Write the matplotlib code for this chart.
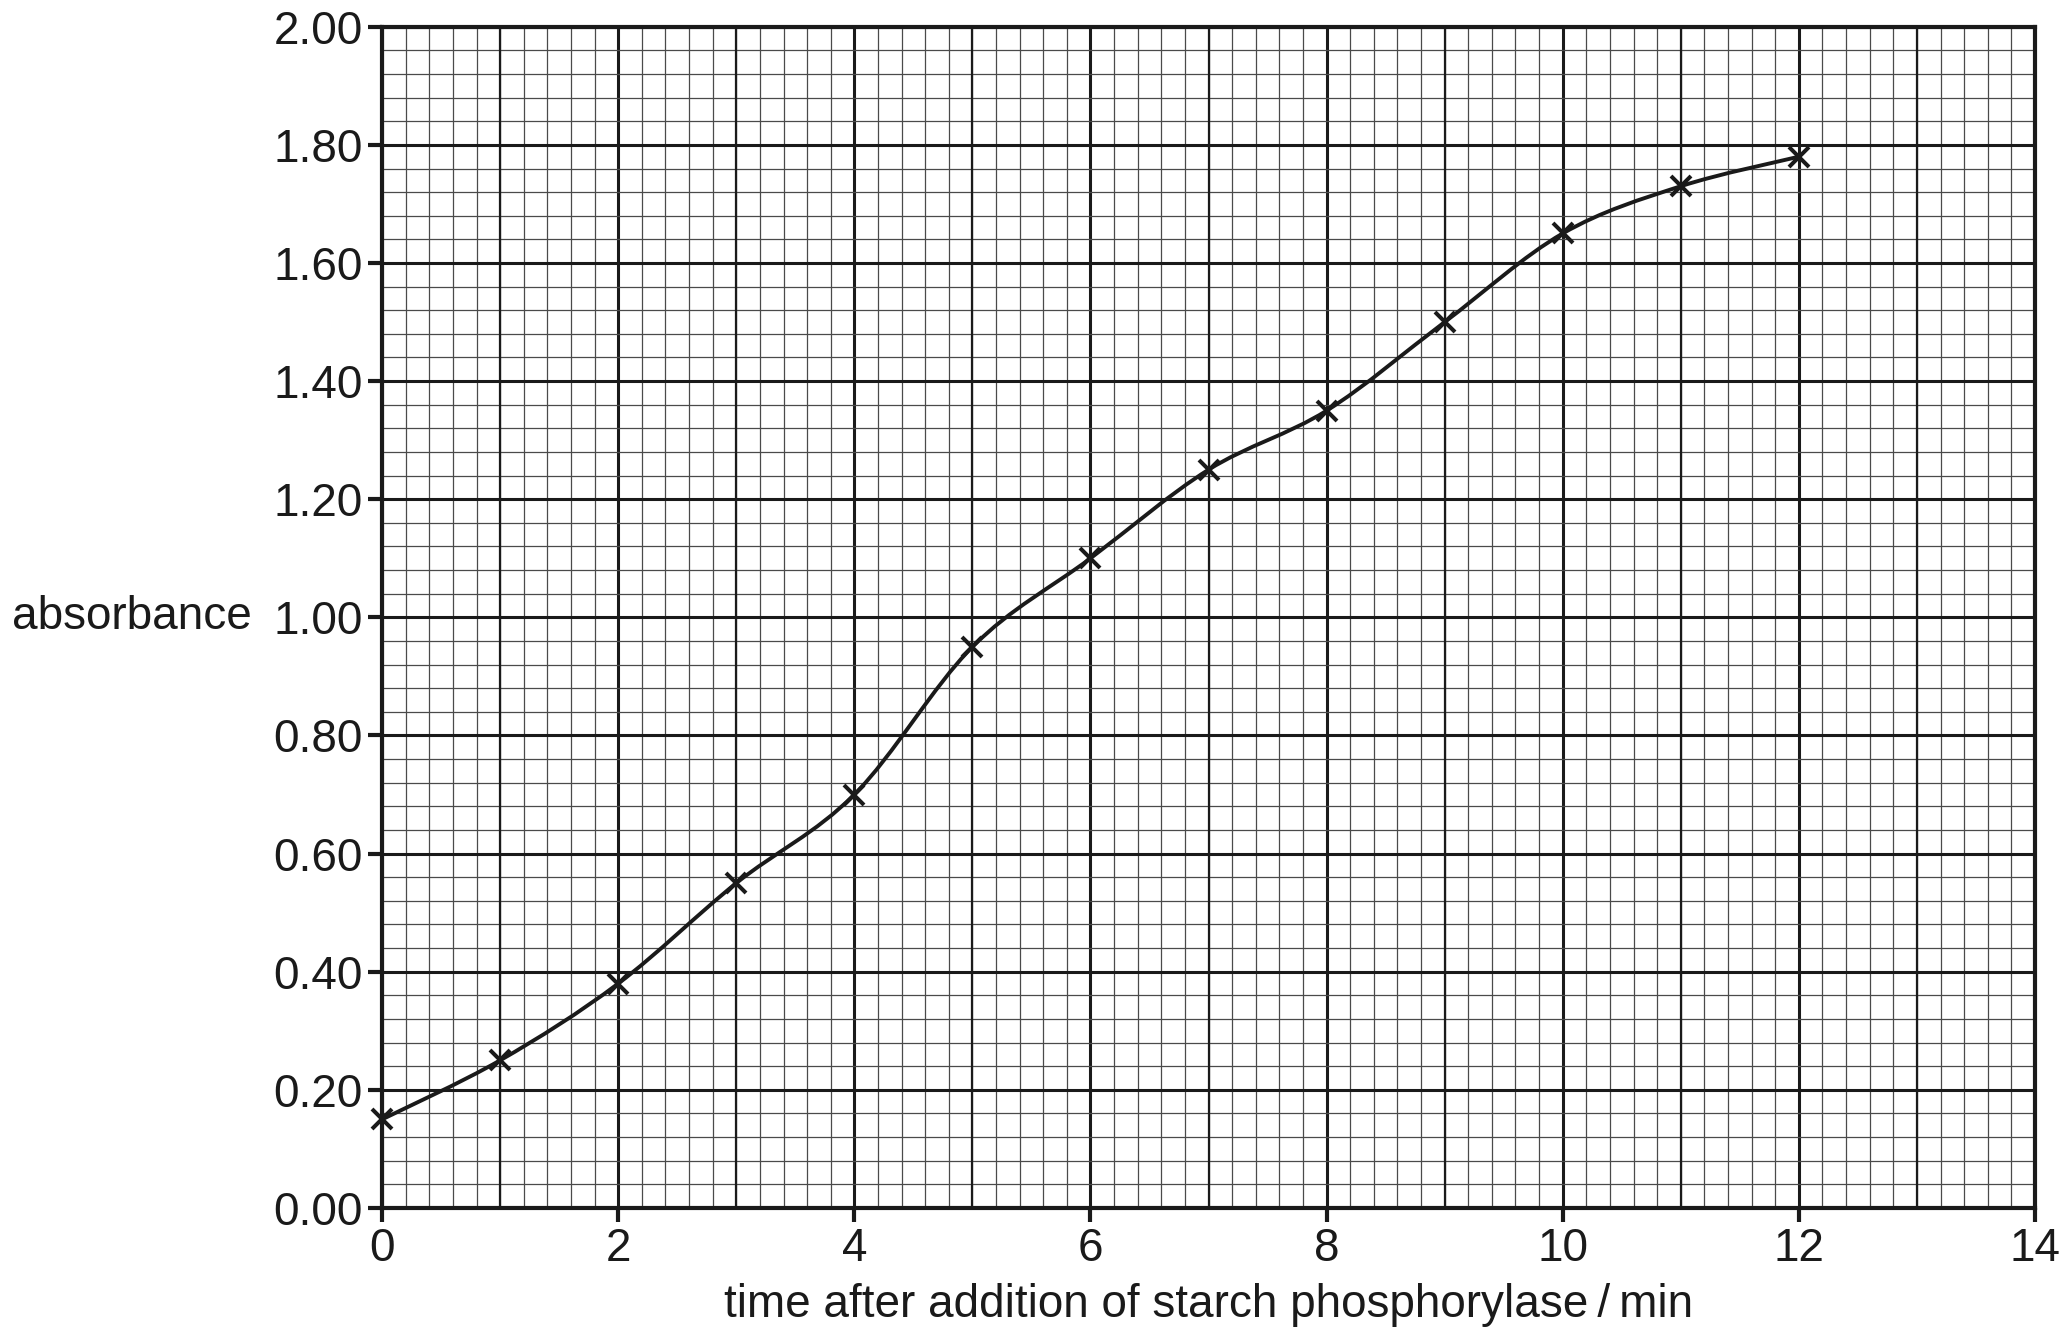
import numpy as np
import matplotlib
matplotlib.use('Agg')
import matplotlib.pyplot as plt
from matplotlib.path import Path
from matplotlib.patches import PathPatch
from matplotlib.ticker import MultipleLocator, FormatStrFormatter
from matplotlib.transforms import blended_transform_factory

plt.rcParams['font.family'] = ['Liberation Sans', 'DejaVu Sans']

# readings
time_min = [0, 1, 2, 3, 4, 5, 6, 7, 8, 9, 10, 11, 12]
absorbance = [0.15, 0.25, 0.38, 0.55, 0.70, 0.95, 1.10, 1.25, 1.35, 1.50, 1.65, 1.73, 1.78]

x_ticks = [0, 2, 4, 6, 8, 10, 12, 14]
y_ticks = [0.0, 0.2, 0.4, 0.6, 0.8, 1.0, 1.2, 1.4, 1.6, 1.8, 2.0]

ink = '#1a1a1a'

fig = plt.figure(figsize=(20.71, 13.38), dpi=100)
ax = fig.add_axes([0.1845, 0.0972, 0.7981, 0.8828])
ax.set_xlim(0, 14)
ax.set_ylim(0, 2.0)

# graph paper: fine lines, a middle line each minute, heavy lines at the ticks
ax.xaxis.set_minor_locator(MultipleLocator(0.2))
ax.yaxis.set_minor_locator(MultipleLocator(0.04))
ax.grid(which='minor', color='#4a4a4a', lw=0.9, zorder=0)
for v in np.arange(1, 14, 2):
    ax.axvline(v, color=ink, lw=1.6, zorder=1)
ax.grid(which='major', color=ink, lw=2.2, zorder=1)
ax.set_axisbelow(True)

# smooth curve through the points (Catmull-Rom as cubic Bezier segments)
pts = np.column_stack([time_min, absorbance])
verts = [pts[0]]
codes = [Path.MOVETO]
n = len(pts)
for i in range(n - 1):
    p0 = pts[i - 1] if i > 0 else pts[i]
    p1 = pts[i]
    p2 = pts[i + 1]
    p3 = pts[i + 2] if i + 2 < n else pts[i + 1]
    c1 = p1 + (p2 - p0) / 6.0
    c2 = p2 - (p3 - p1) / 6.0
    verts += [c1, c2, p2]
    codes += [Path.CURVE4] * 3
ax.add_patch(PathPatch(Path(verts, codes), fill=False, ec=ink, lw=2.8, zorder=3))
ax.plot(time_min, absorbance, ls='none', marker='x', ms=14, mew=2.9, color=ink,
        zorder=4, clip_on=False)

for s in ax.spines.values():
    s.set_linewidth(3.0)
    s.set_color(ink)
    s.set_zorder(5)

ax.set_xticks(x_ticks)
ax.set_yticks(y_ticks)
ax.yaxis.set_major_formatter(FormatStrFormatter('%.2f'))
ax.tick_params(which='major', direction='out', length=10, width=3, color=ink,
               labelsize=33, labelcolor=ink, pad=4)
ax.tick_params(which='minor', length=0)

ax.set_xlabel('time after addition of starch phosphorylase\u2009/\u2009min', fontsize=33, color=ink, labelpad=8)
ax.text(0.006, 1.0, 'absorbance', transform=blended_transform_factory(fig.transFigure, ax.transData),
        fontsize=33, color=ink, ha='left', va='center')

fig.savefig('out.png', dpi=100)
